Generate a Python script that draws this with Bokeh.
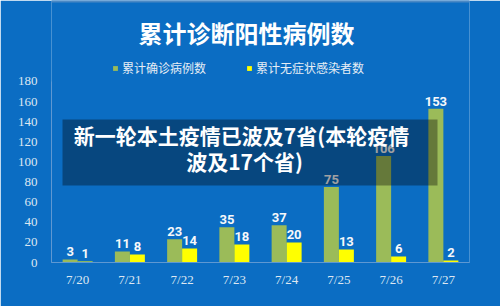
from bokeh.plotting import figure
from bokeh.models import (FactorRange, Range1d, FixedTicker, ColumnDataSource, Label,
                          BoxAnnotation, Legend, LegendItem)
from bokeh.transform import dodge
from bokeh.core.properties import value
from bokeh.embed import file_html
from bokeh.resources import INLINE

dates = ["7/20", "7/21", "7/22", "7/23", "7/24", "7/25", "7/26", "7/27"]
confirmed = [3, 11, 23, 35, 37, 75, 106, 153]
asymptomatic = [1, 8, 14, 18, 20, 13, 6, 2]
y_ticks = [0, 20, 40, 60, 80, 100, 120, 140, 160, 180]
title_text = "累计诊断阳性病例数"
series_names = ["累计确诊病例数", "累计无症状感染者数"]
note_lines = ["新一轮本土疫情已波及7省(本轮疫情", "波及17个省)"]

BG = "#0b6dc3"
GREEN = "#9bbb59"
YELLOW = "#ffff00"
TICK_COLOR = "#dde7f2"

src = ColumnDataSource(dict(
    date=dates, confirmed=confirmed, asym=asymptomatic,
    confirmed_lbl=[str(v) for v in confirmed],
    asym_lbl=[str(v) for v in asymptomatic],
))

# frame spans up to the top of the canvas; the y axis itself is bounded to 0..180
p = figure(width=500, height=306, x_range=FactorRange(*dates, range_padding=0),
           y_range=Range1d(0, 260.55), output_backend="svg", toolbar_location=None,
           min_border_left=51, min_border_right=31, min_border_top=0, min_border_bottom=44)
p.background_fill_color = BG
p.border_fill_color = BG
p.outline_line_color = None
p.xgrid.grid_line_color = None
p.ygrid.grid_line_color = None

w = 0.287
r1 = p.vbar(x=dodge("date", -w / 2, range=p.x_range), top="confirmed", width=w,
            source=src, fill_color=GREEN, line_color=None)
r2 = p.vbar(x=dodge("date", w / 2, range=p.x_range), top="asym", width=w,
            source=src, fill_color=YELLOW, line_color=None)

lbl_font = value("Roboto")
p.text(x=dodge("date", -w / 2, range=p.x_range), y="confirmed", text="confirmed_lbl",
       source=src, text_align="center", text_baseline="bottom", y_offset=-3,
       text_color="#f6f8fa", text_font=lbl_font, text_font_style="bold",
       text_font_size="13px")
p.text(x=dodge("date", w / 2, range=p.x_range), y="asym", text="asym_lbl",
       source=src, text_align="center", text_baseline="bottom", y_offset=-3,
       text_color="#f6f8fa", text_font=lbl_font, text_font_style="bold",
       text_font_size="13px")

# axes
p.yaxis.ticker = FixedTicker(ticks=y_ticks)
p.yaxis.bounds = (0, 180)
for ax in (p.xaxis[0], p.yaxis[0]):
    ax.major_tick_line_color = None
    ax.minor_tick_line_color = None
    ax.axis_line_color = "#5f98d2"
    ax.major_label_text_color = TICK_COLOR
    ax.major_label_text_font = "Liberation Serif"
    ax.major_label_text_font_size = "13px"
p.yaxis.major_label_standoff = 8
p.xaxis.major_label_standoff = 3

# thin lighter band at the very top
p.add_layout(BoxAnnotation(left=-60, right=500, bottom=260, top=262,
                           left_units="screen", right_units="screen",
                           bottom_units="screen", top_units="screen",
                           fill_color="#4a88c4", fill_alpha=1, line_color=None))

# title
p.add_layout(Label(x=195, y=230, x_units="screen", y_units="screen", text=title_text,
                   text_align="center", text_baseline="middle", text_color="white",
                   text_font="Noto Sans CJK SC", text_font_style="bold",
                   text_font_size="24px"))

# legend
legend = Legend(items=[LegendItem(label=series_names[0], renderers=[r1]),
                       LegendItem(label=series_names[1], renderers=[r2])],
                orientation="horizontal", location=(61, 186),
                glyph_width=6, glyph_height=6, label_standoff=4, spacing=40,
                padding=0, margin=0, background_fill_alpha=0, border_line_color=None,
                label_text_color="#e6edf5", label_text_font="Noto Sans CJK SC",
                label_text_font_size="12px")
p.add_layout(legend, "center")

# overlay box and text
p.add_layout(BoxAnnotation(left=11, right=386, bottom=77, top=143,
                           left_units="screen", right_units="screen",
                           bottom_units="screen", top_units="screen",
                           fill_color="black", fill_alpha=0.35, line_color=None))
p.add_layout(Label(x=190, y=128, x_units="screen", y_units="screen", text=note_lines[0],
                   text_align="center", text_baseline="middle", text_color="white",
                   text_font="Noto Sans CJK SC", text_font_style="bold",
                   text_font_size="21px"))
p.add_layout(Label(x=193, y=102, x_units="screen", y_units="screen", text=note_lines[1],
                   text_align="center", text_baseline="middle", text_color="white",
                   text_font="Noto Sans CJK SC", text_font_style="bold",
                   text_font_size="21px"))

open("out.html", "w").write(file_html(p, INLINE))
